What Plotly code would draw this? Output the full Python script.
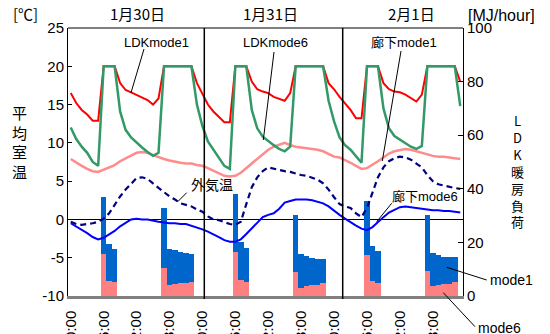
import plotly.graph_objects as go

# ---------------- data (hourly, 3 days = 72 points) ----------------
hours = list(range(72))
ldk_mode1 = [16.5, 15.2, 14.3, 13.7, 12.9, 12.9, 20, 20, 20, 17.8, 16.9, 16.6, 16.3, 16.0, 15.6, 15.0, 15.8, 20, 20, 20, 20, 20, 20, 17.8,
             16.3, 15.0, 14.1, 13.4, 12.7, 12.7, 20, 20, 20, 18.0, 17.0, 16.7, 16.5, 16.0, 15.8, 15.5, 16.5, 20, 20, 20, 20, 20, 20, 17.8,
             17.0, 16.0, 15.1, 14.3, 13.2, 13.2, 20, 20, 20, 17.8, 17.0, 16.7, 16.6, 16.3, 15.8, 15.4, 16.3, 20, 20, 20, 20, 20, 20, 18.0]
ldk_mode6 = [12.0, 10.5, 9.5, 8.7, 7.5, 7.0, 20, 20, 20, 14.1, 11.7, 10.7, 10.0, 9.4, 8.8, 8.3, 8.7, 20, 20, 20, 20, 20, 20, 15.0,
             12.2, 10.2, 9.1, 8.0, 7.0, 6.6, 20, 20, 20, 14.3, 11.9, 10.8, 10.2, 9.7, 9.2, 8.9, 9.5, 20, 20, 20, 20, 20, 20, 15.5,
             12.8, 10.7, 9.7, 9.1, 8.3, 7.4, 20, 20, 20, 14.5, 11.9, 10.9, 10.4, 10.0, 9.5, 9.2, 9.6, 20, 20, 20, 20, 20, 20, 14.8]
rouka_mode1 = [7.9, 7.4, 7.0, 6.6, 6.3, 6.2, 6.5, 6.8, 7.1, 7.6, 8.0, 8.3, 8.7, 8.8, 8.7, 8.4, 8.1, 7.9, 7.7, 7.5, 7.4, 7.3, 7.3, 7.1,
               7.0, 6.7, 6.4, 6.0, 5.7, 5.6, 5.7, 6.1, 6.7, 7.3, 8.0, 8.6, 9.1, 9.5, 9.8, 10.0, 9.7, 9.5, 9.4, 9.3, 9.2, 9.1, 8.9, 8.5,
               8.2, 8.1, 7.8, 7.4, 7.0, 6.6, 6.7, 7.1, 7.6, 8.1, 8.6, 8.9, 9.1, 9.2, 9.1, 8.9, 8.7, 8.4, 8.3, 8.2, 8.2, 8.1, 8.0, 7.9]
rouka_mode6 = [-0.5, -0.9, -1.3, -1.8, -2.3, -2.6, -2.4, -2.0, -1.5, -0.9, -0.4, 0.0, 0.1, 0.0, 0.0, -0.2, -0.3, -0.4, -0.5, -0.5, -0.6, -0.6, -0.8, -1.0,
               -1.3, -1.6, -1.9, -2.3, -2.7, -2.9, -2.9, -2.6, -1.9, -1.2, -0.4, 0.3, 0.6, 0.8, 1.4, 2.2, 2.4, 2.6, 2.6, 2.6, 2.5, 2.3, 2.1, 1.7,
               1.1, 0.6, 0.1, -0.4, -0.8, -1.2, -1.4, -1.0, -0.3, 0.3, 0.9, 1.3, 1.6, 1.7, 1.6, 1.5, 1.4, 1.3, 1.2, 1.2, 1.1, 1.1, 1.0, 0.9]
outdoor = [-0.3, -0.6, -0.7, -0.6, -0.5, -0.3, 0.1, 0.8, 1.9, 3.0, 3.9, 4.7, 5.4, 5.5, 5.3, 4.7, 4.1, 3.5, 3.0, 2.6, 2.1, 1.9, 1.7, 1.3,
           1.0, 0.4, 0.0, -0.1, -0.4, -0.6, -0.7, -0.3, 2.0, 4.2, 5.5, 6.3, 6.8, 6.6, 6.4, 6.3, 6.2, 6.0, 5.8, 5.7, 5.5, 5.2, 4.7, 3.9,
           2.9, 2.0, 1.7, 1.5, 0.8, 0.3, 1.5, 3.5, 5.5, 6.8, 7.6, 8.0, 8.2, 8.1, 7.8, 7.3, 6.8, 5.8, 5.0, 4.6, 4.4, 4.3, 4.1, 4.0]

heat_hours = [6, 7, 8, 17, 18, 19, 20, 21, 22,
              30, 31, 32, 41, 42, 43, 44, 45, 46,
              54, 55, 56, 65, 66, 67, 68, 69, 70]
load_mode1 = [37.1, 19.4, 17.5, 33.0, 17.5, 17.0, 16.5, 15.9, 15.7,
              38.1, 20.0, 17.8, 30.2, 15.7, 14.9, 14.2, 13.8, 13.8,
              35.6, 18.7, 16.8, 30.2, 16.0, 15.3, 14.6, 14.6, 14.6]
load_mode6 = [15.8, 5.7, 5.3, 10.6, 4.1, 4.5, 4.7, 4.7, 5.2,
              16.5, 6.0, 5.3, 9.0, 2.9, 3.7, 4.0, 4.0, 4.7,
              15.3, 5.7, 5.0, 9.5, 3.6, 4.1, 4.6, 4.6, 5.3]

tick_hours = [0, 6, 12, 18, 24, 30, 36, 42, 48, 54, 60, 66]
tick_text = ["0:00", "6:00", "12:00", "18:00"] * 3
day_labels = ["1月30日", "1月31日", "2月1日"]

# ---------------- figure ----------------
xc = [h + 0.5 for h in hours]
bx = [h + 0.5 for h in heat_hours]

L, R, T, B = 68, 87, 28, 38
W, H = 550, 334
PW, PH = W - L - R, H - T - B


def px(X):
    return (X - L) / PW


def py(Y):
    return (H - B - Y) / PH


fig = go.Figure()
fig.add_trace(go.Bar(x=bx, y=load_mode1, width=1, marker=dict(color="#0066CC", line=dict(width=0)),
                     yaxis="y", name="mode1"))
fig.add_trace(go.Bar(x=bx, y=load_mode6, width=1, marker=dict(color="#FF8080", line=dict(width=0)),
                     yaxis="y", name="mode6"))

fig.add_trace(go.Scatter(x=xc, y=rouka_mode1, mode="lines", line=dict(color="#FF8C8C", width=2.5), yaxis="y2"))
fig.add_trace(go.Scatter(x=xc, y=rouka_mode6, mode="lines", line=dict(color="#0000FF", width=2), yaxis="y2"))
fig.add_trace(go.Scatter(x=xc, y=outdoor, mode="lines", line=dict(color="#000080", width=2.2, dash="6px,4px"), yaxis="y2"))
fig.add_trace(go.Scatter(x=xc, y=ldk_mode1, mode="lines", line=dict(color="#FF0000", width=2), yaxis="y2"))
fig.add_trace(go.Scatter(x=xc, y=ldk_mode6, mode="lines", line=dict(color="#339966", width=2.5), yaxis="y2"))

num_font = dict(family="Liberation Sans, Arial, sans-serif", size=15, color="black")
jp = "Liberation Sans, Noto Sans CJK JP, sans-serif"

fig.update_layout(
    width=W, height=H, margin=dict(l=L, r=R, t=T, b=B, autoexpand=False),
    paper_bgcolor="white", plot_bgcolor="white", showlegend=False, barmode="overlay", bargap=0,
    xaxis=dict(range=[0, 72], tickvals=[h + 0.5 for h in tick_hours], ticktext=tick_text, tickangle=-90,
               ticks="", showgrid=False, zeroline=False, showline=True, linecolor="#808080", linewidth=2.5,
               tickfont=num_font, ticklabelstandoff=6, automargin=False),
    yaxis=dict(range=[0, 100], side="right", tickvals=[0, 20, 40, 60, 80, 100], ticks="inside", ticklen=5,
               tickcolor="black", showline=True, linecolor="black", linewidth=1, showgrid=False, zeroline=False,
               tickfont=num_font, automargin=False),
    yaxis2=dict(range=[-10, 25], overlaying="y", side="left", tickvals=[-10, -5, 0, 5, 10, 15, 20, 25],
                ticktext=["-10", "-5", "0", "5", "10", "15", "20", "25"],
                ticks="inside", ticklen=4, tickcolor="black", showline=True, linecolor="black", linewidth=1,
                showgrid=False, zeroline=True, zerolinecolor="black", zerolinewidth=1,
                tickfont=num_font, automargin=False),
)

shapes = [
    dict(type="line", xref="paper", yref="paper", x0=0, x1=1, y0=1, y1=1, line=dict(color="black", width=1)),
    dict(type="line", xref="paper", yref="paper", x0=px(204.3), x1=px(204.3), y0=py(299), y1=1,
         line=dict(color="black", width=1.5)),
    dict(type="line", xref="paper", yref="paper", x0=px(342.7), x1=px(342.7), y0=py(299), y1=1,
         line=dict(color="black", width=1.5)),
]
leaders = [((144, 49), (131, 92.7)),
           ((274, 52), (263.3, 140)),
           ((401, 51), (382.3, 161)),
           ((186.7, 192.7), (177.7, 201.7)),
           ((391.7, 203.3), (376.7, 221.7)),
           ((486.7, 280), (446.7, 267.3)),
           ((475, 326.7), (443.3, 292.7))]
for (a, b) in leaders:
    shapes.append(dict(type="line", xref="paper", yref="paper", x0=px(a[0]), y0=py(a[1]), x1=px(b[0]), y1=py(b[1]),
                       line=dict(color="black", width=1)))
fig.update_layout(shapes=shapes)

ann = []


def add_text(text, X, Y, size, family=jp):
    ann.append(dict(text=text, x=px(X), y=py(Y), xref="paper", yref="paper", showarrow=False,
                    xanchor="center", yanchor="middle", font=dict(family=family, size=size, color="black")))


for lab, X in zip(day_labels, [137.5, 270, 411]):
    add_text(lab, X, 14, 15, "Noto Sans CJK JP, sans-serif")
add_text("[℃]", 25, 13.5, 15, "Noto Sans CJK JP, sans-serif")
add_text("[MJ/hour]", 501, 15, 16, "Liberation Sans, Arial, sans-serif")
add_text("平<br>均<br>室<br>温", 19, 141.5, 15, "Noto Sans CJK JP, sans-serif")
add_text("L<br>D<br>K<br>暖<br>房<br>負<br>荷", 517.5, 170.5, 13, "Noto Sans CJK JP, sans-serif")
add_text("LDKmode1", 156.5, 42.5, 13)
add_text("LDKmode6", 275.5, 42.5, 13)
add_text("廊下mode1", 404, 42.5, 13)
add_text("外気温", 211.5, 185, 14)
add_text("廊下mode6", 425, 196.5, 13)
add_text("mode1", 511.5, 280, 14, "Liberation Sans, Arial, sans-serif")
add_text("mode6", 499.5, 327.5, 14, "Liberation Sans, Arial, sans-serif")
fig.update_layout(annotations=ann)

fig.write_html("out.html", config={"displayModeBar": False},
               post_script="document.body.style.margin='0px';document.body.style.padding='0px';")
